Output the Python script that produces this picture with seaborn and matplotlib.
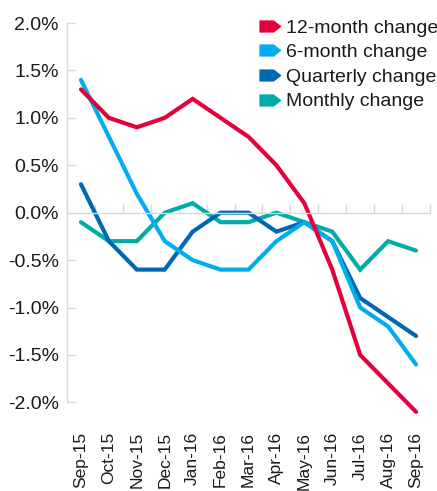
import numpy as np
import pandas as pd
import matplotlib
matplotlib.use("Agg")
import matplotlib.pyplot as plt
import seaborn as sns
from matplotlib.lines import Line2D
from matplotlib.path import Path

months = ["Sep-15", "Oct-15", "Nov-15", "Dec-15", "Jan-16", "Feb-16", "Mar-16",
          "Apr-16", "May-16", "Jun-16", "Jul-16", "Aug-16", "Sep-16"]
twelve_month = [1.3, 1.0, 0.9, 1.0, 1.2, 1.0, 0.8, 0.5, 0.1, -0.6, -1.5, -1.8, -2.1]
six_month = [1.4, 0.8, 0.2, -0.3, -0.5, -0.6, -0.6, -0.3, -0.1, -0.3, -1.0, -1.2, -1.6]
quarterly = [0.3, -0.3, -0.6, -0.6, -0.2, 0.0, 0.0, -0.2, -0.1, -0.3, -0.9, -1.1, -1.3]
monthly = [-0.1, -0.3, -0.3, 0.0, 0.1, -0.1, -0.1, 0.0, -0.1, -0.2, -0.6, -0.3, -0.4]
series_names = ["12-month change", "6-month change", "Quarterly change", "Monthly change"]
y_ticks = [-2.0, -1.5, -1.0, -0.5, 0.0, 0.5, 1.0, 1.5, 2.0]

colors = ["#E4003B", "#00AEEF", "#0068B3", "#00ABA8"]

sns.set_theme(style="white")
plt.rcParams["font.family"] = ["Liberation Sans", "DejaVu Sans"]

rows = []
for name, vals in zip(series_names, [twelve_month, six_month, quarterly, monthly]):
    for i, (m, v) in enumerate(zip(months, vals)):
        rows.append({"pos": i, "month": m, "series": name, "value": v})
df = pd.DataFrame(rows)

fig = plt.figure(figsize=(4.37, 4.91), dpi=100)
ax = fig.add_axes([67/437, 1 - 428/491, (430-67)/437, (428-23)/491])

# draw in reverse so 12-month is on top
for name, col in list(zip(series_names, colors))[::-1]:
    sns.lineplot(data=df[df["series"] == name], x="pos", y="value", color=col,
                 lw=3.0, ax=ax, legend=False, sort=False, clip_on=False,
                 solid_capstyle="round", solid_joinstyle="miter")

ax.set_xlim(-0.5, 12.5)
ax.set_ylim(-2.27, 2.0)
ax.set_xlabel("")
ax.set_ylabel("")

grey = "#d9d9d9"
for s in ["top", "right"]:
    ax.spines[s].set_visible(False)
ax.spines["left"].set_bounds(-2.0, 2.0)
ax.spines["left"].set_color(grey)
ax.spines["left"].set_linewidth(1.0)
ax.spines["bottom"].set_position(("data", 0))
ax.spines["bottom"].set_color(grey)
ax.spines["bottom"].set_linewidth(1.0)

ax.set_yticks(y_ticks)
ax.set_yticklabels([f"{v:.1f}%" for v in y_ticks])
ax.tick_params(axis="y", direction="in", length=6, width=1.0, color=grey,
               labelsize=14, labelcolor="#1a1a1a", pad=6, left=True)

ax.set_xticks(np.arange(-0.5, 13, 1.0))
ax.set_xticklabels([])
ax.tick_params(axis="x", direction="in", length=6.5, width=1.0, color=grey, bottom=True)

sec = ax.secondary_xaxis("bottom")
sec.set_xticks(range(len(months)))
sec.set_xticklabels(months, rotation=90)
sec.tick_params(length=0, labelsize=12.5, labelcolor="#1a1a1a", pad=3)
sec.spines["bottom"].set_visible(False)

arrow = Path([(-1, -0.55), (0.3, -0.55), (1, 0), (0.3, 0.55), (-1, 0.55), (-1, -0.55)],
             [Path.MOVETO, Path.LINETO, Path.LINETO, Path.LINETO, Path.LINETO, Path.CLOSEPOLY])
handles = [Line2D([], [], linestyle="none", marker=arrow, markersize=16,
                  markerfacecolor=c, markeredgecolor=c, markeredgewidth=0) for c in colors]
fig.legend(handles, series_names, loc="upper left", bbox_to_anchor=(258/437, 1 - 19/491),
           frameon=False, fontsize=14, handlelength=1.2, handletextpad=0.25,
           labelspacing=0.36, borderpad=0, borderaxespad=0, labelcolor="#1a1a1a")

fig.savefig("out.png", dpi=100)
